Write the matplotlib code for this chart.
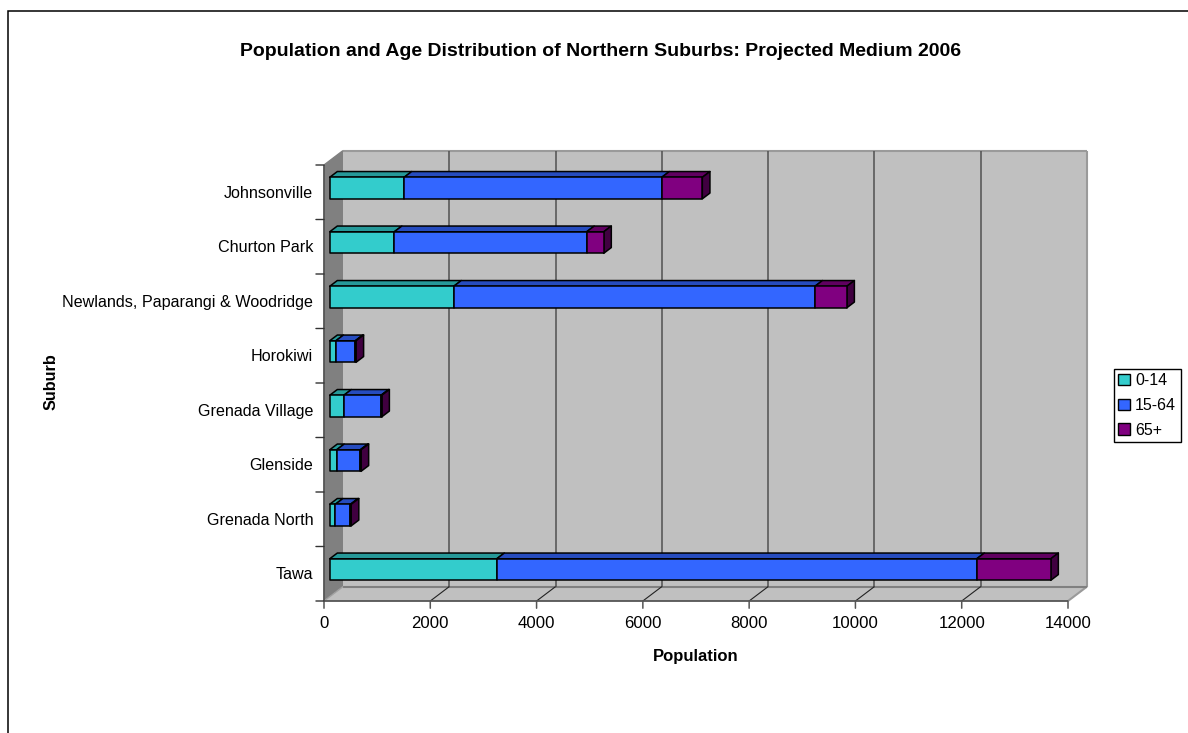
import matplotlib
matplotlib.use("Agg")
import matplotlib.pyplot as plt
from matplotlib.patches import Polygon, Patch, Rectangle

plt.rcParams['font.family'] = ['Liberation Sans', 'DejaVu Sans']

suburbs = ["Johnsonville", "Churton Park", "Newlands, Paparangi & Woodridge", "Horokiwi",
           "Grenada Village", "Glenside", "Grenada North", "Tawa"]
age_groups = ["0-14", "15-64", "65+"]
age_0_14 = [1400, 1215, 2333, 115, 265, 130, 105, 3143]
age_15_64 = [4848, 3620, 6797, 365, 700, 445, 285, 9032]
age_65_plus = [764, 321, 600, 15, 15, 15, 15, 1393]
x_ticks = [0, 2000, 4000, 6000, 8000, 10000, 12000, 14000]

face_colors = ["#33CCCC", "#3366FF", "#800080"]
top_colors = ["#269999", "#264CBF", "#600060"]
side_colors = ["#1A6666", "#1A3380", "#400040"]
WALL = "#C0C0C0"
SIDE_WALL = "#808080"
GRID = "#505050"

W, H = 1188, 733
fig = plt.figure(figsize=(W / 100, H / 100), dpi=100)
fig.patch.set_facecolor("white")

# chart border, open past the right and bottom edges
fig.add_artist(Rectangle((8 / W, -0.05), 1.1, 1 - 10.5 / H + 0.05, transform=fig.transFigure,
                         fill=False, edgecolor="black", linewidth=1.1))

# front plane of the 3D box in pixels
L, R, T, B = 324, 1068, 165, 601
ax = fig.add_axes([L / W, 1 - B / H, (R - L) / W, (B - T) / H])
ax.set_xlim(0, 14000)
ax.set_ylim(len(suburbs), 0)
ax.axis("off")

# oblique depth direction, in data units per full box depth
DX = 19 / (R - L) * 14000
DY = 14.4 / (B - T) * len(suburbs)


def pt(x, y, d=0.0):
    return (x + DX * d, y - DY * d)


def poly(points, **kw):
    kw.setdefault("clip_on", False)
    p = Polygon(points, closed=True, **kw)
    ax.add_patch(p)
    return p


n = len(suburbs)
xmax = x_ticks[-1]
# walls and floor
poly([pt(0, 0, 1), pt(xmax, 0, 1), pt(xmax, n, 1), pt(0, n, 1)], facecolor=WALL, edgecolor="none", zorder=1)
poly([pt(0, 0, 0), pt(0, 0, 1), pt(0, n, 1), pt(0, n, 0)], facecolor=SIDE_WALL, edgecolor="none", zorder=1)
poly([pt(0, n, 0), pt(0, n, 1), pt(xmax, n, 1), pt(xmax, n, 0)], facecolor=WALL, edgecolor="none", zorder=1)


def seg(a, b, **kw):
    ax.plot([a[0], b[0]], [a[1], b[1]], clip_on=False, solid_capstyle="butt", **kw)


# wall outlines
seg(pt(0, 0, 1), pt(xmax, 0, 1), color="#9A9A9A", lw=1.5, zorder=2)
seg(pt(xmax, 0, 1), pt(xmax, n, 1), color="#9A9A9A", lw=1.5, zorder=2)
seg(pt(xmax, n, 1), pt(xmax, n, 0), color="#9A9A9A", lw=1.5, zorder=2)
seg(pt(0, n, 1), pt(xmax, n, 1), color="#808080", lw=1.5, zorder=2)
seg(pt(0, 0, 0), pt(0, 0, 1), color="#808080", lw=1, zorder=2)
seg(pt(0, n, 0), pt(0, n, 1), color="#A0A0A0", lw=1, zorder=2)

# gridlines across back wall and floor
for t in x_ticks[1:-1]:
    seg(pt(t, 0, 1), pt(t, n, 1), color=GRID, lw=1.1, zorder=2)
    seg(pt(t, n, 0), pt(t, n, 1), color="#222222", lw=0.8, zorder=2)

# front axis lines and tick marks
seg(pt(0, 0), pt(0, n), color="#555555", lw=1.3, zorder=3)
seg(pt(0, n), pt(xmax, n), color="#555555", lw=1.3, zorder=3)
for t in x_ticks:
    ax.annotate("", (t, n), xytext=(0, -5.2), textcoords="offset points", annotation_clip=False,
                arrowprops=dict(arrowstyle="-", color="#555555", lw=1.1, shrinkA=0, shrinkB=0))
    ax.annotate(str(t), (t, n), xytext=(0, -16), textcoords="offset points", ha="center", va="center",
                fontsize=12.1, color="black", annotation_clip=False)
for i in range(n + 1):
    ax.annotate("", (0, i), xytext=(-5.8, 0), textcoords="offset points", annotation_clip=False,
                arrowprops=dict(arrowstyle="-", color="#333333", lw=1.0, shrinkA=0, shrinkB=0))
for i, name in enumerate(suburbs):
    ax.annotate(name, (0, i + 0.5), xytext=(-7.7, -0.6), textcoords="offset points", ha="right", va="center",
                fontsize=11.6, color="black", annotation_clip=False)

# stacked bars, each with a front face, top and end cap
D0, D1 = 0.30, 0.70
for i in range(n):
    left = 0
    y0 = i + 0.305
    y1 = i + 0.70
    vals = [age_0_14[i], age_15_64[i], age_65_plus[i]]
    for k, v in enumerate(vals):
        right = left + v
        poly([pt(left, y0, D0), pt(right, y0, D0), pt(right, y0, D1), pt(left, y0, D1)],
             facecolor=top_colors[k], edgecolor="black", lw=1.1, joinstyle="round", zorder=5)
        poly([pt(left, y0, D0), pt(right, y0, D0), pt(right, y1, D0), pt(left, y1, D0)],
             facecolor=face_colors[k], edgecolor="black", lw=1.1, joinstyle="round", zorder=6)
        if k == 2:
            poly([pt(right, y0, D0), pt(right, y0, D1), pt(right, y1, D1), pt(right, y1, D0)],
                 facecolor=side_colors[k], edgecolor="black", lw=1.1, joinstyle="round", zorder=5)
        left = right

# titles placed in figure pixels
fig.text(601 / W, 1 - 52 / H, "Population and Age Distribution of Northern Suburbs: Projected Medium 2006",
         ha="center", va="center", fontsize=14.0, fontweight="bold")
fig.text(696 / W, 1 - 656 / H, "Population", ha="center", va="center", fontsize=12.0, fontweight="bold")
fig.text(51 / W, 1 - 382 / H, "Suburb", ha="center", va="center", rotation=90, fontsize=11.7, fontweight="bold")

handles = [Patch(facecolor=c, edgecolor="black", lw=1.0, label=a) for c, a in zip(face_colors, age_groups)]
fig.legend(handles=handles, loc="upper left", bbox_to_anchor=(1114 / W, 1 - 369 / H), borderaxespad=0,
           frameon=True, fancybox=False, edgecolor="black", framealpha=1, fontsize=11.5,
           handlelength=0.7, handleheight=0.7, handletextpad=0.35, labelspacing=0.6, borderpad=0.28)

fig.savefig("out.png", dpi=100)
